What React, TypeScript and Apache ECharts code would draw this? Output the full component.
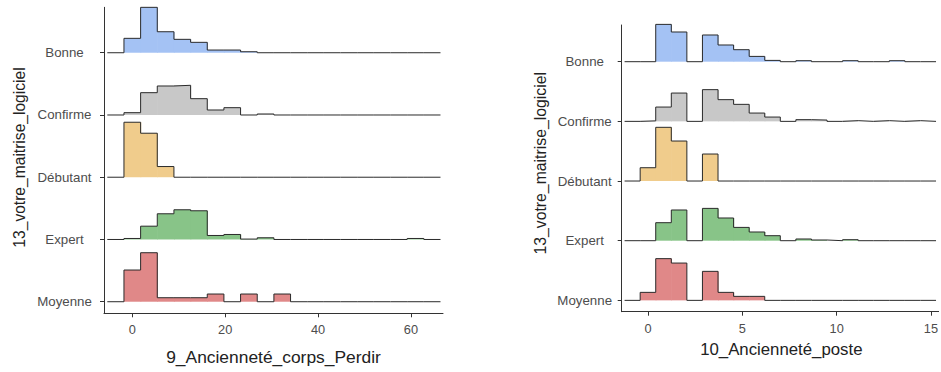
import React, { useEffect, useRef } from "react";
import * as echarts from "echarts";

// Categories, top to bottom
const categories = ["Bonne", "Confirme", "Débutant", "Expert", "Moyenne"];
const fillColors = ["#a4c2f4", "#c8c8c8", "#f0cc8c", "#88c488", "#e08888"];

// Left panel: 9_Ancienneté_corps_Perdir (20 bins)
const leftBinStart = -5.38;
const leftBinWidth = 3.587;
const leftRowHeight = 62.25; // relative height units per row
const leftBonne = [0, 14.4, 45.4, 21, 13.4, 10.4, 2.7, 2.7, 1, 0, 0, 0, 0, 0, 0, 0, 0, 0, 0, 0];
const leftConfirme = [0, 2.3, 22.3, 29, 29.7, 16.3, 5, 7.3, 0, 1, 0, 0, 0, 0, 0, 0, 0, 0, 0, 0];
const leftDebutant = [0, 55, 44, 10.7, 0, 0, 0, 0, 0, 0, 0, 0, 0, 0, 0, 0, 0, 0, 0, 0];
const leftExpert = [0, 1, 13.3, 25.7, 29.7, 28.7, 4, 5, 0.4, 1.7, 0, 0, 0, 0, 0, 0, 0, 0, 1, 0];
const leftMoyenne = [0, 31.7, 49, 4, 4, 4, 7.7, 0, 7.7, 0, 7.7, 0, 0, 0, 0, 0, 0, 0, 0, 0];
const leftTicks = [0, 20, 40, 60];

// Right panel: 10_Ancienneté_poste (20 bins)
const rightBinStart = -1.247;
const rightBinWidth = 0.826;
const rightRowHeight = 59.65;
const rightBonne = [0, 0, 37.3, 29.7, 0, 26.7, 16.7, 12, 5.3, 1.3, 0, 1, 0, 0, 1, 0, 0, 1, 0, 0];
const rightConfirme = [0, 0.5, 14.3, 28.3, 0, 31.7, 21.7, 17, 8.3, 4.3, 0, 1.7, 1.3, 0, 0.7, 0, 0.7, 0, 0.7, 0];
const rightDebutant = [0, 13.3, 53.7, 40, 0, 27, 0, 0, 0, 0, 0, 0, 0, 0, 0, 0, 0, 0, 0, 0];
const rightExpert = [0, 0, 18, 30.7, 0, 32.3, 22.7, 13.3, 8.7, 5, 0, 1.7, 0.7, 0, 1, 0, 0, 0, 0, 0];
const rightMoyenne = [0, 8, 41.7, 37.3, 0, 29, 8, 4, 4, 0, 0, 0, 0, 0, 0, 0, 0, 0, 0, 0];
const rightTicks = [0, 5, 10, 15];

const leftSeries = [leftBonne, leftConfirme, leftDebutant, leftExpert, leftMoyenne];
const rightSeries = [rightBonne, rightConfirme, rightDebutant, rightExpert, rightMoyenne];

const FONT = "'Liberation Sans', Arial, sans-serif";
const AXIS_COLOR = "#333333";
const LABEL_COLOR = "#4d4d4d";
const OUTLINE = "#2a2a2a";

function fillSeries(
  axisIdx: number,
  heights: number[],
  binStart: number,
  binWidth: number,
  rowHeight: number,
  catIdx: number,
  color: string
) {
  const base = categories.length - 1 - catIdx;
  const data = heights.map((h, k) => [
    binStart + k * binWidth,
    binStart + (k + 1) * binWidth,
    base,
    h / rowHeight,
    k === heights.length - 1 || heights[k + 1] === 0 ? 1 : 0,
  ]);
  return {
    type: "custom",
    name: categories[catIdx],
    xAxisIndex: axisIdx,
    yAxisIndex: axisIdx,
    silent: true,
    clip: false,
    z: 1,
    encode: { x: [0, 1], y: [2, 3] },
    data,
    renderItem: (params: any, api: any) => {
      const x0 = api.value(0);
      const x1 = api.value(1);
      const b = api.value(2);
      const h = api.value(3);
      const endsHere = api.value(4);
      if (!(h > 0)) return { type: "group", children: [] };
      const a = api.coord([x0, b]);
      const c = api.coord([x1, b + h]);
      const ext = endsHere ? 0 : 0.6;
      return {
        type: "polygon",
        shape: {
          points: [
            [a[0], a[1]],
            [c[0] + ext, a[1]],
            [c[0] + ext, c[1]],
            [a[0], c[1]],
          ],
        },
        style: { fill: color, stroke: null },
      };
    },
  };
}

function outlineSeries(
  axisIdx: number,
  heights: number[],
  binStart: number,
  binWidth: number,
  rowHeight: number,
  catIdx: number
) {
  const base = categories.length - 1 - catIdx;
  const data = heights.map((h, k) => [binStart + k * binWidth, base + h / rowHeight]);
  data.push([binStart + heights.length * binWidth, base]);
  return {
    type: "line",
    name: categories[catIdx] + " outline",
    xAxisIndex: axisIdx,
    yAxisIndex: axisIdx,
    silent: true,
    step: "end",
    symbol: "none",
    z: 3,
    clip: false,
    lineStyle: { color: OUTLINE, width: 1 },
    data,
  };
}

function yAxis(gridIndex: number, min: number, max: number, margin: number) {
  const vals = [0, 1, 2, 3, 4];
  return {
    type: "value",
    gridIndex,
    min,
    max,
    splitLine: { show: false },
    axisLine: { show: true, onZero: false, lineStyle: { color: AXIS_COLOR, width: 1 } },
    axisTick: { show: true, length: 4, customValues: vals, lineStyle: { color: AXIS_COLOR } },
    axisLabel: {
      customValues: vals,
      formatter: (v: number) => categories[categories.length - 1 - Math.round(v)],
      align: "center",
      margin,
      color: LABEL_COLOR,
      fontSize: 13.3,
      fontFamily: FONT,
    },
  };
}

function xAxis(gridIndex: number, min: number, max: number, ticks: number[]) {
  return {
    type: "value",
    gridIndex,
    min,
    max,
    splitLine: { show: false },
    axisLine: { show: true, onZero: false, lineStyle: { color: AXIS_COLOR, width: 1 } },
    axisTick: { show: true, length: 4, customValues: ticks, lineStyle: { color: AXIS_COLOR } },
    axisLabel: {
      customValues: ticks,
      margin: 10,
      color: LABEL_COLOR,
      fontSize: 12.8,
      fontFamily: FONT,
      showMinLabel: true,
      showMaxLabel: true,
    },
  };
}

export default function App() {
  const ref = useRef<HTMLDivElement>(null);
  useEffect(() => {
    document.body.style.margin = "0";
    const chart = echarts.init(ref.current!, undefined, { renderer: "svg" });
    const series: any[] = [];
    leftSeries.forEach((hs, i) =>
      series.push(fillSeries(0, hs, leftBinStart, leftBinWidth, leftRowHeight, i, fillColors[i]))
    );
    rightSeries.forEach((hs, i) =>
      series.push(fillSeries(1, hs, rightBinStart, rightBinWidth, rightRowHeight, i, fillColors[i]))
    );
    leftSeries.forEach((hs, i) =>
      series.push(outlineSeries(0, hs, leftBinStart, leftBinWidth, leftRowHeight, i))
    );
    rightSeries.forEach((hs, i) =>
      series.push(outlineSeries(1, hs, rightBinStart, rightBinWidth, rightRowHeight, i))
    );
    const titleStyle = { fill: "#222222", fontFamily: FONT };
    chart.setOption({
      animation: false,
      backgroundColor: "#ffffff",
      grid: [
        { left: 104, top: 7.3, width: 339, height: 306 },
        { left: 621.7, top: 25, width: 319.3, height: 286.7 },
      ],
      xAxis: [xAxis(0, -6.09, 66.9, leftTicks), xAxis(1, -1.4, 15.41, rightTicks)],
      yAxis: [yAxis(0, -0.186, 4.73, 39.5), yAxis(1, -0.19, 4.615, 37)],
      graphic: [
        {
          type: "text",
          x: 273.5,
          y: 357,
          style: { ...titleStyle, text: "9_Ancienneté_corps_Perdir", fontSize: 17.4, align: "center", verticalAlign: "middle" },
        },
        {
          type: "text",
          x: 781.3,
          y: 349.5,
          style: { ...titleStyle, text: "10_Ancienneté_poste", fontSize: 16.8, align: "center", verticalAlign: "middle" },
        },
        {
          type: "text",
          x: 19.5,
          y: 157.5,
          rotation: Math.PI / 2,
          style: { ...titleStyle, text: "13_votre_maitrise_logiciel", fontSize: 15.6, align: "center", verticalAlign: "middle" },
        },
        {
          type: "text",
          x: 540,
          y: 163.3,
          rotation: Math.PI / 2,
          style: { ...titleStyle, text: "13_votre_maitrise_logiciel", fontSize: 15.8, align: "center", verticalAlign: "middle" },
        },
      ],
      series,
    });
    return () => chart.dispose();
  }, []);
  return <div ref={ref} style={{ width: 941, height: 372, position: "fixed", left: 0, top: 0 }} />;
}
